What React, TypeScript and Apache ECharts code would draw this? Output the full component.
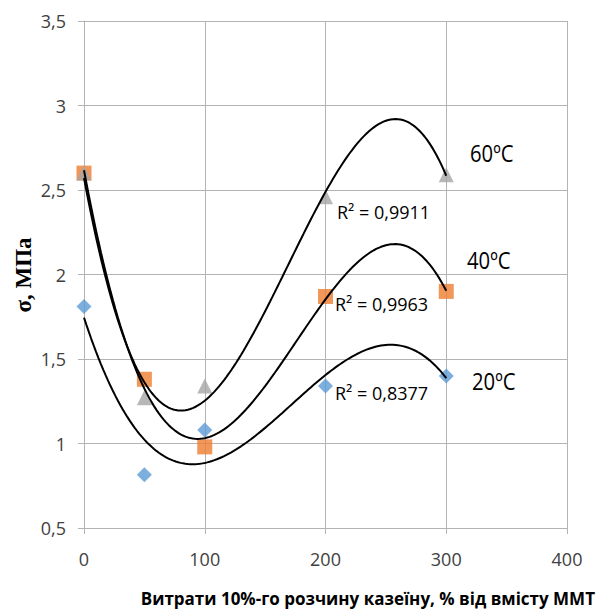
import React, { useEffect, useRef } from "react";
import * as echarts from "echarts";

const xValues = [0, 50, 100, 200, 300];
const s60 = [2.6, 1.27, 1.34, 2.46, 2.59];
const s40 = [2.6, 1.38, 0.98, 1.87, 1.9];
const s20 = [1.81, 0.815, 1.08, 1.34, 1.4];
const seriesNames = ["60ºC", "40ºC", "20ºC"];
const r2Labels = ["R² = 0,9911", "R² = 0,9963", "R² = 0,8377"];
const xTicks = [0, 100, 200, 300, 400];
const yTicks = [0.5, 1, 1.5, 2, 2.5, 3, 3.5];
const xTitle = "Витрати 10%-го розчину казеїну, % від вмісту ММТ";
const yTitle = "σ, МПа";

// cubic least squares (like Excel polynomial trendline, order 3)
function cubicFit(xs: number[], ys: number[]): number[] {
  const n = 4;
  const sx = xs.map((x) => x / 100);
  const A: number[][] = [];
  for (let i = 0; i < n; i++) {
    const row: number[] = [];
    for (let j = 0; j < n; j++) {
      let s = 0;
      for (const x of sx) s += Math.pow(x, i + j);
      row.push(s);
    }
    let b = 0;
    sx.forEach((x, k) => (b += Math.pow(x, i) * ys[k]));
    row.push(b);
    A.push(row);
  }
  for (let c = 0; c < n; c++) {
    let p = c;
    for (let r = c + 1; r < n; r++) if (Math.abs(A[r][c]) > Math.abs(A[p][c])) p = r;
    [A[c], A[p]] = [A[p], A[c]];
    for (let r = 0; r < n; r++) {
      if (r === c) continue;
      const f = A[r][c] / A[c][c];
      for (let k = c; k <= n; k++) A[r][k] -= f * A[c][k];
    }
  }
  return A.map((row, i) => row[n] / row[i]);
}

function trend(xs: number[], ys: number[]): number[][] {
  const c = cubicFit(xs, ys);
  const pts: number[][] = [];
  for (let x = 0; x <= 300; x += 2) {
    const t = x / 100;
    pts.push([x, c[0] + c[1] * t + c[2] * t * t + c[3] * t * t * t]);
  }
  return pts;
}

const font = "'Open Sans', 'Noto Sans', sans-serif";

export default function App() {
  const ref = useRef<HTMLDivElement>(null);
  useEffect(() => {
    if (!ref.current) return;
    const chart = echarts.init(ref.current, undefined, { renderer: "svg" });
    const pair = (ys: number[]) => xValues.map((x, i) => [x, ys[i]]);
    const lineStyle = { color: "#000", width: 2 };
    const label = (text: string, x: number, y: number, size: number, sx = 1) => ({
      type: "text",
      x,
      y,
      scaleX: sx,
      style: { text, font: `${size}px ${font}`, fill: "#000", align: "left", verticalAlign: "middle" },
    });
    chart.setOption({
      animation: false,
      backgroundColor: "#fff",
      grid: { left: 84, right: 31, top: 21, bottom: 87, containLabel: false },
      xAxis: {
        type: "value",
        min: xTicks[0],
        max: xTicks[xTicks.length - 1],
        interval: 100,
        axisLine: { show: true, lineStyle: { color: "#b3b3b3", width: 1 } },
        axisTick: { show: true, length: 6, lineStyle: { color: "#b3b3b3" } },
        splitLine: { show: true, lineStyle: { color: "#b3b3b3", width: 1 } },
        axisLabel: { color: "#404040", fontSize: 18, fontFamily: font, margin: 22 },
      },
      yAxis: {
        type: "value",
        min: yTicks[0],
        max: yTicks[yTicks.length - 1],
        interval: 0.5,
        axisLine: { show: true, lineStyle: { color: "#b3b3b3", width: 1 } },
        axisTick: { show: true, length: 6, lineStyle: { color: "#b3b3b3" } },
        splitLine: { show: true, lineStyle: { color: "#b3b3b3", width: 1 } },
        axisLabel: {
          color: "#404040",
          fontSize: 18,
          fontFamily: font,
          margin: 18,
          formatter: (v: number) => String(v).replace(".", ","),
        },
      },
      series: [
        { type: "line", data: trend(xValues, s60), showSymbol: false, lineStyle, z: 3, silent: true },
        { type: "line", data: trend(xValues, s40), showSymbol: false, lineStyle, z: 3, silent: true },
        { type: "line", data: trend(xValues, s20), showSymbol: false, lineStyle, z: 3, silent: true },
        {
          name: seriesNames[2],
          type: "scatter",
          data: pair(s20),
          symbol: "diamond",
          symbolSize: 15,
          itemStyle: { color: "#5B9BD5" },
          z: 2,
        },
        {
          name: seriesNames[1],
          type: "scatter",
          data: pair(s40),
          symbol: "rect",
          symbolSize: 15,
          itemStyle: { color: "#ED7D31" },
          z: 2,
        },
        {
          name: seriesNames[0],
          type: "scatter",
          data: pair(s60),
          symbol: "triangle",
          symbolSize: 15,
          itemStyle: { color: "#A5A5A5" },
          z: 2,
        },
      ],
      graphic: [
        label(seriesNames[0], 470, 153, 23, 0.88),
        label(seriesNames[1], 467, 260, 23, 0.88),
        label(seriesNames[2], 472, 381, 23, 0.88),
        label(r2Labels[0], 337, 212, 18),
        label(r2Labels[1], 335, 304, 18),
        label(r2Labels[2], 335, 393, 18),
        {
          type: "text",
          x: 595,
          y: 598,
          style: {
            text: xTitle,
            font: `bold 17px ${font}`,
            fill: "#000",
            align: "right",
            verticalAlign: "middle",
          },
        },
        {
          type: "text",
          x: 23,
          y: 275,
          rotation: Math.PI / 2,
          style: {
            text: yTitle,
            font: "bold 23px 'Liberation Serif', 'DejaVu Serif', serif",
            fill: "#000",
            align: "center",
            verticalAlign: "middle",
          },
        },
      ],
    });
    return () => chart.dispose();
  }, []);
  return (
    <div
      ref={ref}
      style={{ position: "fixed", left: 0, top: 0, width: 598, height: 615, background: "#fff" }}
    />
  );
}
